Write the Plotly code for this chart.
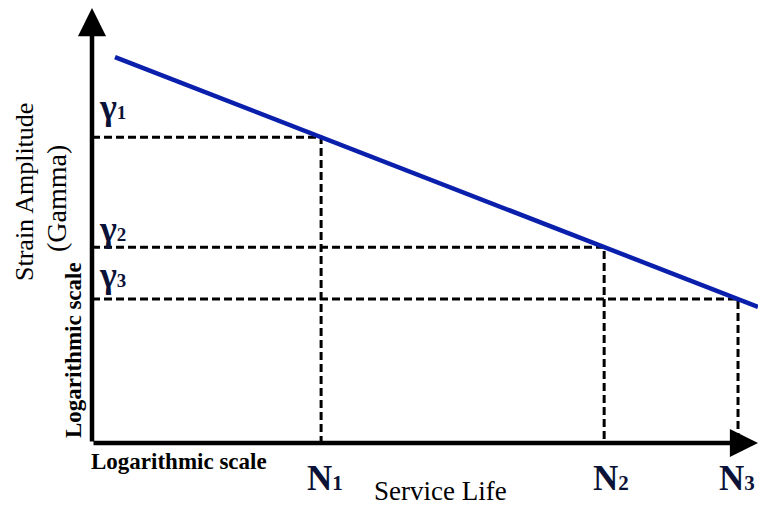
import plotly.graph_objects as go

# S-N style fatigue curve: strain amplitude vs. service life (both on log scales,
# drawn here on normalised 0-100 axes)
curve_life = [3.45, 34.4, 76.9, 97.0, 100.0]
curve_gamma = [88.7, 70.3, 45.0, 33.1, 31.3]

# Reference points on the curve
point_life = [34.4, 76.9, 97.0]
point_gamma = [70.3, 45.0, 33.1]
gamma_labels = ["γ", "γ", "γ"]
life_labels = ["N", "N", "N"]
index_labels = ["1", "2", "3"]

BLUE = "#0a20ac"
INK = "#0b1238"
SERIF = "Liberation Serif, Times New Roman, serif"

fig = go.Figure()

# Dashed guide lines from each point to the two axes
for n, g in zip(point_life, point_gamma):
    fig.add_trace(go.Scatter(
        x=[0, n, n], y=[g, g, 0], mode="lines",
        line=dict(color="black", width=3, dash="8px,4px"),
        hoverinfo="skip", showlegend=False,
    ))

# Fatigue curve
fig.add_trace(go.Scatter(
    x=curve_life, y=curve_gamma, mode="lines",
    line=dict(color=BLUE, width=4.5),
    hoverinfo="skip", showlegend=False,
))

annotations = []

# Axes drawn as arrows
for tip, tail in [((100, 0), (0, 0)), ((0, 100), (0, 0))]:
    annotations.append(dict(
        x=tip[0], y=tip[1], ax=tail[0], ay=tail[1],
        xref="x", yref="y", axref="x", ayref="y",
        text="", showarrow=True, arrowhead=2, arrowsize=1.25,
        arrowwidth=4.5, arrowcolor="black", standoff=0,
    ))

# Gamma labels next to the vertical axis
gamma_shift = [8, -4, 2]
for lab, idx, g, dy in zip(gamma_labels, index_labels, point_gamma, gamma_shift):
    annotations.append(dict(
        x=0, y=g, xref="x", yref="y", xanchor="left", yanchor="bottom",
        xshift=5, yshift=dy, showarrow=False,
        text=f"<b>{lab}<span style='font-size:19px'>{idx}</span></b>",
        font=dict(family=SERIF, size=36, color=INK),
    ))

# Life labels under the horizontal axis
life_shift = [4, 7, -1]
for lab, idx, n, dx in zip(life_labels, index_labels, point_life, life_shift):
    annotations.append(dict(
        x=n, y=0, xref="x", yref="y", xanchor="center", yanchor="top",
        xshift=dx, yshift=-14, showarrow=False,
        text=f"<b>{lab}<span style='font-size:21px'>{idx}</span></b>",
        font=dict(family=SERIF, size=35, color=INK),
    ))

# Axis titles
annotations += [
    dict(x=440, y=491, showarrow=False,
         text="Service Life", font=dict(family=SERIF, size=27, color="black")),
    dict(x=179, y=461, showarrow=False,
         text="<b>Logarithmic scale</b>", font=dict(family=SERIF, size=23, color="black")),
    dict(x=73, y=350, showarrow=False, textangle=-90,
         text="<b>Logarithmic scale</b>", font=dict(family=SERIF, size=23, color="black")),
    dict(x=24, y=192, showarrow=False, textangle=-90,
         text="Strain Amplitude", font=dict(family=SERIF, size=26, color="black")),
    dict(x=57, y=199, showarrow=False, textangle=-90,
         text="(Gamma)", font=dict(family=SERIF, size=28, color="black")),
]

# Convert pixel-placed titles to paper coordinates
W, H = 758, 505
L, R, T, B = 92, 0, 8, 62
pw, ph = W - L - R, H - T - B
for a in annotations[-5:]:
    a["xref"] = "paper"
    a["yref"] = "paper"
    a["x"] = (a["x"] - L) / pw
    a["y"] = (H - B - a["y"]) / ph
    a["xanchor"] = "center"
    a["yanchor"] = "middle"

fig.update_layout(
    width=W, height=H,
    margin=dict(l=L, r=R, t=T, b=B),
    paper_bgcolor="white", plot_bgcolor="white",
    xaxis=dict(range=[0, 100], visible=False, fixedrange=True),
    yaxis=dict(range=[0, 100], visible=False, fixedrange=True),
    annotations=annotations,
)

fig.write_html("out.html")
